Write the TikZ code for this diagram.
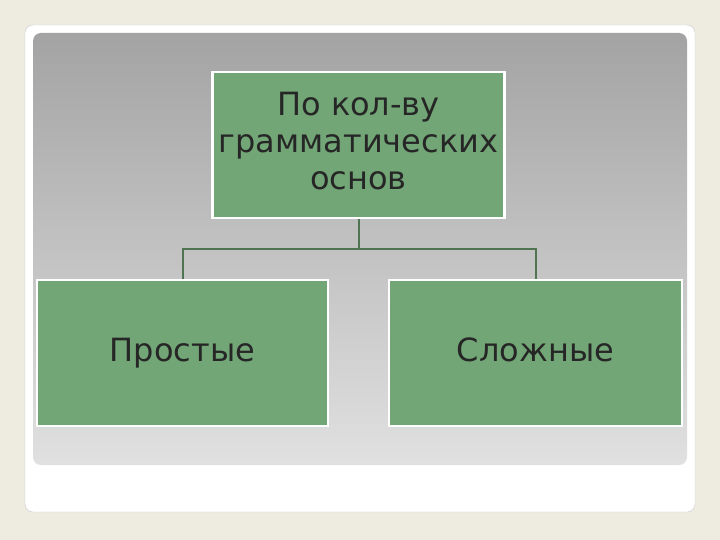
\documentclass[tikz,border=0pt]{standalone}
\usepackage{fontspec}
\setmainfont{DejaVu Sans}
\begin{document}
\begin{tikzpicture}[x=1pt,y=-1pt,
  gbox/.style={draw=white,line width=2.5pt,fill=boxgreen,text=textdark,align=center,inner sep=0pt,text height=24pt,text depth=7pt,font=\fontsize{32}{37}\selectfont},
  conn/.style={draw=linegreen,line width=2pt}]
\definecolor{bg}{HTML}{EEEBE0}
\definecolor{boxgreen}{HTML}{72A676}
\definecolor{linegreen}{HTML}{4E7452}
\definecolor{textdark}{HTML}{262626}
\fill[bg] (0,0) rectangle (720,540);
\useasboundingbox (0,0) rectangle (720,540);
\draw[fill=white,draw=gray!40,rounded corners=8pt] (25,25) rectangle (695,512);
\shade[top color=black!36,bottom color=black!12,rounded corners=8pt] (33,33) rectangle (687,465);
\node[gbox,minimum width=292pt,minimum height=146pt] (top) at (358.5,145) {};
\node[align=center,text=textdark,font=\fontsize{32}{37}\selectfont,inner sep=0pt] (tt) at (358.5,141) {По кол-ву\\грамматических\\основ};
\node[gbox,minimum width=291pt,minimum height=146pt] (l) at (182.5,353) {Простые};
\node[gbox,minimum width=293pt,minimum height=146pt] (r) at (535.5,353) {Сложные};
\coordinate (m) at (358.5,249);
\draw[conn] (top.south) -- (m);
\draw[conn] (l.north) |- (m) -| (r.north);
\end{tikzpicture}
\end{document}
